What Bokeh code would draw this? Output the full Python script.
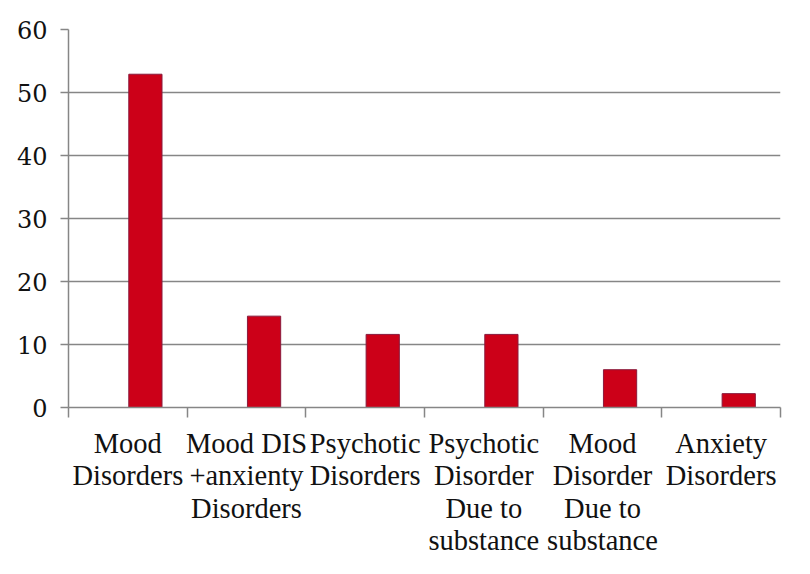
from bokeh.plotting import figure
from bokeh.models import Range1d, FixedTicker, ColumnDataSource
from bokeh.transform import dodge
from bokeh.embed import file_html
from bokeh.resources import INLINE

categories = ["Mood\nDisorders", "Mood DIS\n+anxienty\nDisorders", "Psychotic\nDisorders",
              "Psychotic\nDisorder\nDue to\nsubstance", "Mood\nDisorder\nDue to\nsubstance",
              "Anxiety\nDisorders"]
values = [52.9, 14.5, 11.6, 11.6, 6.0, 2.2]
y_ticks = [0, 10, 20, 30, 40, 50, 60]

centers = [i + 0.5 for i in range(len(categories))]
bounds = list(range(len(categories) + 1))

src = ColumnDataSource(dict(x=centers, top=values))

p = figure(width=800, height=559, output_backend="svg", toolbar_location=None,
           x_range=Range1d(0, len(categories)), y_range=Range1d(0, 60),
           min_border_left=68, min_border_right=20, min_border_top=29, min_border_bottom=150)
p.outline_line_color = None
p.background_fill_color = "white"
p.border_fill_color = "white"

p.vbar(x=dodge("x", 0.148, range=p.x_range), top="top", bottom=0, width=0.28, source=src,
       fill_color="#CC0018", line_color="#8A1A3C", line_width=1)

grid_col = "#868686"
p.xgrid.visible = False
p.ygrid.ticker = FixedTicker(ticks=y_ticks)
p.ygrid.grid_line_color = grid_col
p.ygrid.grid_line_width = 1.5

ya = p.yaxis[0]
ya.ticker = FixedTicker(ticks=y_ticks)
ya.axis_line_color = grid_col
ya.axis_line_width = 1.5
ya.major_tick_line_color = grid_col
ya.major_tick_line_width = 1.5
ya.major_tick_out = 8
ya.major_tick_in = 0
ya.minor_tick_line_color = None
ya.major_label_standoff = 13
ya.major_label_text_font = "DejaVu Serif"
ya.major_label_text_font_size = "24px"
ya.major_label_text_color = "#111111"

xa = p.xaxis[0]
xa.ticker = FixedTicker(ticks=centers, minor_ticks=bounds)
xa.major_label_overrides = {c: lab for c, lab in zip(centers, categories)}
xa.axis_line_color = grid_col
xa.axis_line_width = 1.5
xa.major_tick_line_color = None
xa.minor_tick_line_color = grid_col
xa.minor_tick_line_width = 1.5
xa.minor_tick_out = 10
xa.minor_tick_in = 0
xa.major_label_standoff = 10
xa.major_label_text_font = "Liberation Serif"
xa.major_label_text_font_size = "28.5px"
xa.major_label_text_line_height = 1.05
xa.major_label_text_color = "#111111"
xa.major_label_text_align = "center"

open("out.html", "w").write(file_html(p, INLINE))
